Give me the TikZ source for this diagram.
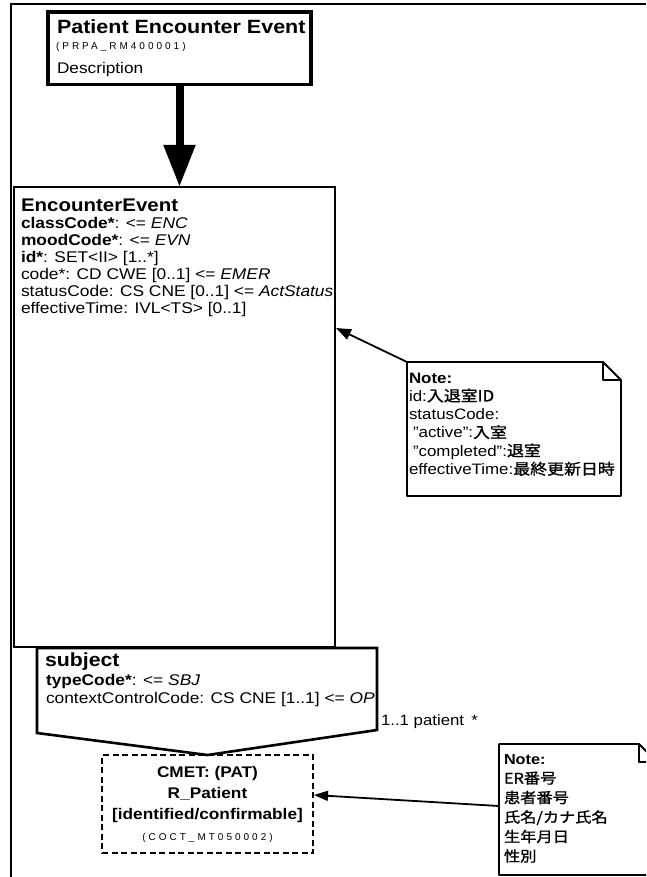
\documentclass[tikz,border=0pt]{standalone}
\usepackage{fontspec}
\setmainfont{Liberation Sans}[FakeStretch=1.12]
\newfontfamily\cjk{Noto Sans CJK JP}[FakeStretch=1.12, FakeBold=1.2]
\newfontfamily\smallid{Liberation Sans}[LetterSpace=30]
\usetikzlibrary{arrows.meta,calc}
\tikzset{
  boxshape/.style={draw=black, rectangle, inner sep=0pt, outer sep=0pt, anchor=north west},
  txt/.style={inner sep=0pt, outer sep=0pt, anchor=base west},
  conn/.style={draw=black, line width=1.8pt},
  notepath/.style={draw=black, line width=1.8pt, line join=round},
  tinyid/.style={inner sep=0pt, outer sep=0pt, font=\smallid\fontsize{10}{11}\selectfont}
}
\begin{document}
\begin{tikzpicture}[x=1pt,y=-1pt]
\path[use as bounding box] (0,0) rectangle (646,877);
\clip (0,0) rectangle (646,877);
% outer frame
\draw[line width=2pt] (11,877) -- (11,4.5) -- (646,4.5);

% Patient Encounter Event box
\node[boxshape, line width=3.6pt, minimum width=263pt, minimum height=72.5pt] (pee) at (48,12) {};
\node[txt, font=\bfseries\fontsize{19.2}{21}\selectfont] (peeT) at (57,33.5) {Patient Encounter Event};
\node[tinyid, anchor=base west] (peeId) at (56,50) {(PRPA\_RM400001)};
\node[txt, font=\fontsize{15.4}{17}\selectfont] (peeD) at (57,74) {Description};

% EncounterEvent box
\node[boxshape, line width=2pt, minimum width=321pt, minimum height=460pt] (ee) at (14,187) {};
\node[txt, font=\bfseries\fontsize{18.3}{20}\selectfont] (eeT) at (21,212) {EncounterEvent};
% base anchor = baseline of the last line
\node[txt, align=left, font=\fontsize{15.5}{17}\selectfont] (eeA) at (21,313) {%
\textbf{classCode*}: <= \textit{ENC}\\
\textbf{moodCode*}: <= \textit{EVN}\\
\textbf{id*}: SET<II> [1..*]\\
code*: CD CWE [0..1] <= \textit{EMER}\\
statusCode: CS CNE [0..1] <= \textit{ActStatus}\\
effectiveTime: IVL<TS> [0..1]};

% thick arrow
\draw[line width=8pt, -{Triangle[length=42pt,width=30pt]}] (pee.south) -- (pee.south |- ee.north);

% Note 1
\node[inner sep=0pt, outer sep=0pt, anchor=north west, minimum width=214pt, minimum height=134pt] (note1) at (407,362) {};
\draw[notepath] (note1.north west) -- ($(note1.north east)+(-18,0)$) -- ($(note1.north east)+(0,18)$) -- (note1.south east) -- (note1.south west) -- cycle;
\draw[notepath] ($(note1.north east)+(-18,0)$) -- ($(note1.north east)+(-18,18)$) -- ($(note1.north east)+(0,18)$);
\node[txt, align=left, font=\fontsize{15.1}{18.3}\selectfont] (note1T) at (409,474.5) {%
\textbf{Note:}\\
id:{\cjk 入退室ID}\\
statusCode:\\
\hspace*{4pt}"active":{\cjk 入室}\\
\hspace*{4pt}"completed":{\cjk 退室}\\
effectiveTime:{\cjk 最終更新日時}};
\coordinate (eeIn) at (336,328);
\draw[conn, -{Triangle[length=15pt,width=11pt]}] (note1.north west) -- (eeIn);

% CMET box
\node[boxshape, line width=2pt, dash pattern=on 6pt off 3.5pt, minimum width=211pt, minimum height=98pt] (cmet) at (102,755) {};
\node[inner sep=0pt, anchor=base, align=center, font=\bfseries\fontsize{15.4}{21}\selectfont] (cmetT) at (207.5,819) {CMET: (PAT)\\R\_Patient\\{[identified/confirmable]}};
\node[tinyid, anchor=base] (cmetId) at (207.5,840) {(COCT\_MT050002)};

% subject (pentagon)
\node[inner sep=0pt, outer sep=0pt, anchor=north west, minimum width=340pt, minimum height=84pt] (subj) at (37,648) {};
\draw[line width=2.6pt, line join=miter] (subj.north west) -- (subj.north east) -- ($(subj.south east)+(0,-2)$) -- (cmet.north) -- ($(subj.south west)+(0,1)$) -- cycle;
\node[txt, font=\bfseries\fontsize{19}{21}\selectfont] (subjT) at (45,666) {subject};
\node[txt, align=left, font=\fontsize{15.5}{18}\selectfont] (subjA) at (46,703) {%
\textbf{typeCode*}: <= \textit{SBJ}\\
contextControlCode: CS CNE [1..1] <= \textit{OP}};
\node[txt, font=\fontsize{15}{17}\selectfont] (mult) at (381,725) {1..1 patient \,*};

% Note 2
\node[inner sep=0pt, outer sep=0pt, anchor=north west, minimum width=158pt, minimum height=131pt] (note2) at (499,744) {};
\draw[notepath] (note2.north west) -- ($(note2.north east)+(-18,0)$) -- ($(note2.north east)+(0,18)$) -- (note2.south east) -- (note2.south west) -- cycle;
\draw[notepath] ($(note2.north east)+(-18,0)$) -- ($(note2.north east)+(-18,18)$) -- ($(note2.north east)+(0,18)$);
\node[txt, align=left, font=\fontsize{14.5}{19.5}\selectfont] (note2T) at (504,861.5) {%
\textbf{Note:}\\
{\cjk ER番号}\\
{\cjk 患者番号}\\
{\cjk 氏名/カナ氏名}\\
{\cjk 生年月日}\\
{\cjk 性別}};
\coordinate (n2out) at ($(note2.north west)+(0,62)$);
\coordinate (cmetIn) at ($(cmet.north east)+(1,40)$);
\draw[conn, -{Triangle[length=14pt,width=10pt]}] (n2out) -- (cmetIn);
\end{tikzpicture}
\end{document}
